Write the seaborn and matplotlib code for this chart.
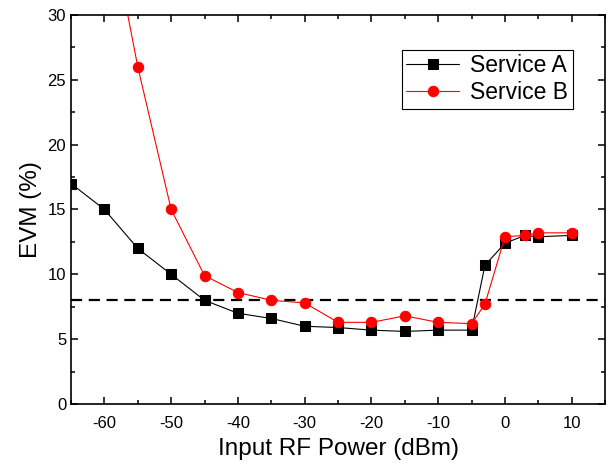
import matplotlib
matplotlib.use("Agg")
import matplotlib.pyplot as plt
import seaborn as sns
import pandas as pd
from matplotlib.ticker import MultipleLocator

power_a = [-65, -60, -55, -50, -45, -40, -35, -30, -25, -20, -15, -10, -5, -3, 0, 3, 5, 10]
evm_a = [17.0, 15.0, 12.0, 10.0, 8.0, 7.0, 6.6, 6.0, 5.9, 5.7, 5.6, 5.7, 5.7, 10.7, 12.4, 13.0, 12.9, 13.0]
power_b = [-60, -55, -50, -45, -40, -35, -30, -25, -20, -15, -10, -5, -3, 0, 3, 5, 10]
evm_b = [39.3, 26.0, 15.0, 9.9, 8.6, 8.0, 7.8, 6.3, 6.3, 6.8, 6.3, 6.2, 7.7, 12.9, 13.0, 13.2, 13.2]
threshold = 8.0

sns.set_theme(style="ticks")
plt.rcParams["font.family"] = ["Liberation Sans", "DejaVu Sans"]
plt.rcParams["axes.unicode_minus"] = False
plt.rcParams["text.color"] = "black"
plt.rcParams["axes.labelcolor"] = "black"

df_a = pd.DataFrame({"power": power_a, "evm": evm_a})
df_b = pd.DataFrame({"power": power_b, "evm": evm_b})

fig = plt.figure(figsize=(6.16, 4.65), dpi=100)
ax = fig.add_axes([0.1153, 0.131, 0.867, 0.837])

sns.lineplot(data=df_a, x="power", y="evm", ax=ax, color="black", marker="s",
             markersize=6.5, markeredgecolor="black", linewidth=0.8, label="Service A")
sns.lineplot(data=df_b, x="power", y="evm", ax=ax, color="#ff0000", marker="o",
             markersize=7.5, markeredgecolor="#ff0000", linewidth=0.8, label="Service B")
ax.axhline(threshold, color="black", linestyle=(0, (5, 3)), linewidth=1.6, zorder=1)

ax.set_xlim(-65, 15)
ax.set_ylim(0, 30)
ax.xaxis.set_major_locator(MultipleLocator(10))
ax.xaxis.set_minor_locator(MultipleLocator(5))
ax.yaxis.set_major_locator(MultipleLocator(5))
ax.yaxis.set_minor_locator(MultipleLocator(2.5))
ax.tick_params(which="both", direction="in", top=True, right=True, width=1.1,
               labelsize=12, colors="black")
ax.tick_params(which="major", length=5)
ax.tick_params(which="minor", length=3)
ax.tick_params(axis="x", pad=8.5)
for s in ax.spines.values():
    s.set_linewidth(1.2)
    s.set_color("black")
    s.set_visible(True)

ax.set_xlabel("Input RF Power (dBm)", fontsize=17.5, labelpad=5)
ax.set_ylabel("EVM (%)", fontsize=17.5, labelpad=4)

leg = ax.legend(loc="upper right", bbox_to_anchor=(0.94, 0.91), fontsize=16.5,
                frameon=True, fancybox=False, edgecolor="black", framealpha=1,
                handlelength=2.3, borderpad=0.2, labelspacing=0.15, handletextpad=0.5,
                borderaxespad=0)
leg.get_frame().set_linewidth(0.8)

fig.savefig("out.png", dpi=100)
